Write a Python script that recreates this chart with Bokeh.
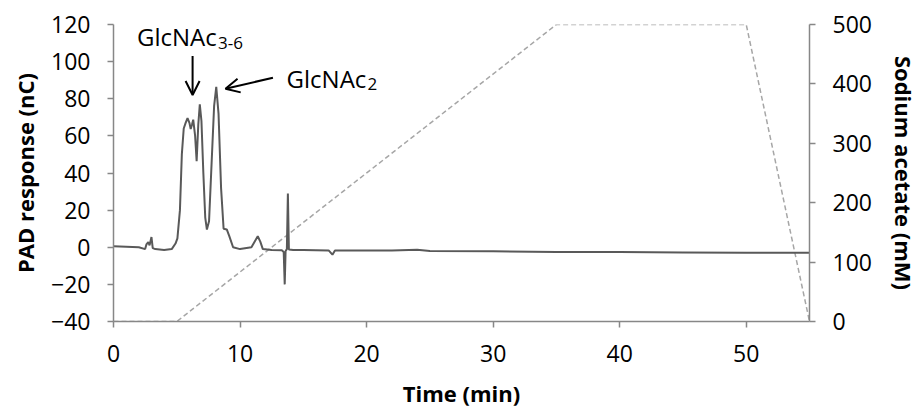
from bokeh.plotting import figure
from bokeh.models import Range1d, LinearAxis, Arrow, OpenHead, FixedTicker
from bokeh.core.properties import value
from bokeh.embed import file_html
from bokeh.resources import INLINE

# PAD response trace (time in min, response in nC)
pad_time = [0, 1, 2, 2.5, 2.6, 2.75, 2.85, 3.0, 3.1, 3.3, 4, 4.6, 4.9, 5.05, 5.25, 5.4, 5.55,
            5.7, 5.85, 6.0, 6.1, 6.2, 6.3, 6.45, 6.57, 6.7, 6.82, 6.95, 7.1, 7.25, 7.38, 7.55,
            7.75, 7.95, 8.12, 8.3, 8.5, 8.7, 8.95, 9.15, 9.45, 10, 10.9, 11.15, 11.4, 11.6,
            11.8, 12.5, 13.3, 13.45, 13.53, 13.6, 13.7, 13.78, 13.86, 14.2, 15, 17, 17.3,
            17.5, 20, 22, 24, 25, 30, 35, 40, 45, 50, 55]
pad_resp = [0.5, 0.3, 0, -1, 1.5, 2.7, 1.0, 5.5, -0.5, -1, -1.5, -1, 2, 4.8, 20, 50, 64,
            67, 69.6, 67, 63.7, 66, 68.7, 60, 46.3, 66, 77, 68, 40, 16, 9.5, 14,
            45, 76, 86.4, 72, 32, 10, 9.6, 6, 0, -1, 0, 3, 5.9, 3,
            -1, -1.5, -1.6, -2.5, -20, -2, -1, 29, -1.2, -1.5, -1.5, -1.7, -4,
            -1.7, -1.8, -1.7, -1.4, -2, -2.2, -2.5, -2.6, -2.8, -2.9, -3]

# Sodium acetate gradient (time in min, concentration in mM)
grad_time = [0, 5, 35, 50, 55]
grad_conc = [0, 0, 500, 500, 0]

x_ticks = [0, 10, 20, 30, 40, 50]
left_ticks = [-40, -20, 0, 20, 40, 60, 80, 100, 120]
right_ticks = [0, 100, 200, 300, 400, 500]

FONT = "Open Sans"
AXIS_COLOR = "#878787"

p = figure(width=921, height=410, output_backend="svg", toolbar_location=None,
           x_range=Range1d(0, 55), y_range=Range1d(-40, 120),
           min_border_left=113, min_border_right=111, min_border_top=24, min_border_bottom=89)
p.outline_line_color = None
p.grid.visible = False
p.extra_y_ranges = {"na": Range1d(0, 500)}

p.line(grad_time, grad_conc, y_range_name="na", line_color="#a6a6a6",
       line_width=1.5, line_dash="5 3")
p.line(pad_time, pad_resp, line_color="#595959", line_width=2)

def style(ax, ticks):
    ax.ticker = FixedTicker(ticks=ticks)
    ax.axis_line_color = AXIS_COLOR
    ax.axis_line_width = 1.5
    ax.major_tick_line_color = AXIS_COLOR
    ax.major_tick_line_width = 1.5
    ax.major_tick_in = 0
    ax.major_tick_out = 6
    ax.minor_tick_line_color = None
    ax.major_label_text_font = FONT
    ax.major_label_text_font_size = "23px"
    ax.major_label_text_color = "#000000"
    ax.axis_label_text_font = FONT
    ax.axis_label_text_font_size = "22px"
    ax.axis_label_text_font_style = "bold"
    ax.axis_label_text_color = "#000000"

p.xaxis.axis_label = "Time (min)"
style(p.xaxis[0], x_ticks)
p.xaxis.major_label_standoff = 17
p.xaxis.axis_label_standoff = 13

p.yaxis.axis_label = "PAD response (nC)"
style(p.yaxis[0], left_ticks)
p.yaxis.major_label_standoff = 17
p.yaxis.axis_label_standoff = 8

right = LinearAxis(y_range_name="na", axis_label="Sodium acetate (mM)")
style(right, right_ticks)
right.major_label_standoff = 17
right.axis_label_standoff = 14
p.add_layout(right, "right")

# annotations
p.text(x=[1.86], y=[113.5], text=["GlcNAc"], text_font=value(FONT), text_font_size="24px",
       text_baseline="alphabetic", text_align="left", text_color="#000000")
p.text(x=[1.86], y=[113.5], text=["3-6"], text_font=value(FONT), text_font_size="17px",
       text_baseline="alphabetic", text_align="left", text_color="#000000",
       x_offset=81, y_offset=6)
p.text(x=[13.68], y=[91], text=["GlcNAc"], text_font=value(FONT), text_font_size="24px",
       text_baseline="alphabetic", text_align="left", text_color="#000000")
p.text(x=[13.68], y=[91], text=["2"], text_font=value(FONT), text_font_size="17px",
       text_baseline="alphabetic", text_align="left", text_color="#000000",
       x_offset=81, y_offset=6)

p.add_layout(Arrow(x_start=6.25, y_start=103, x_end=6.25, y_end=82,
                   line_color="#000000", line_width=2,
                   end=OpenHead(size=14, line_width=2, line_color="#000000")))
p.add_layout(Arrow(x_start=12.6, y_start=91.3, x_end=8.85, y_end=85.4,
                   line_color="#000000", line_width=2,
                   end=OpenHead(size=14, line_width=2, line_color="#000000")))

open("out.html", "w").write(file_html(p, INLINE))
